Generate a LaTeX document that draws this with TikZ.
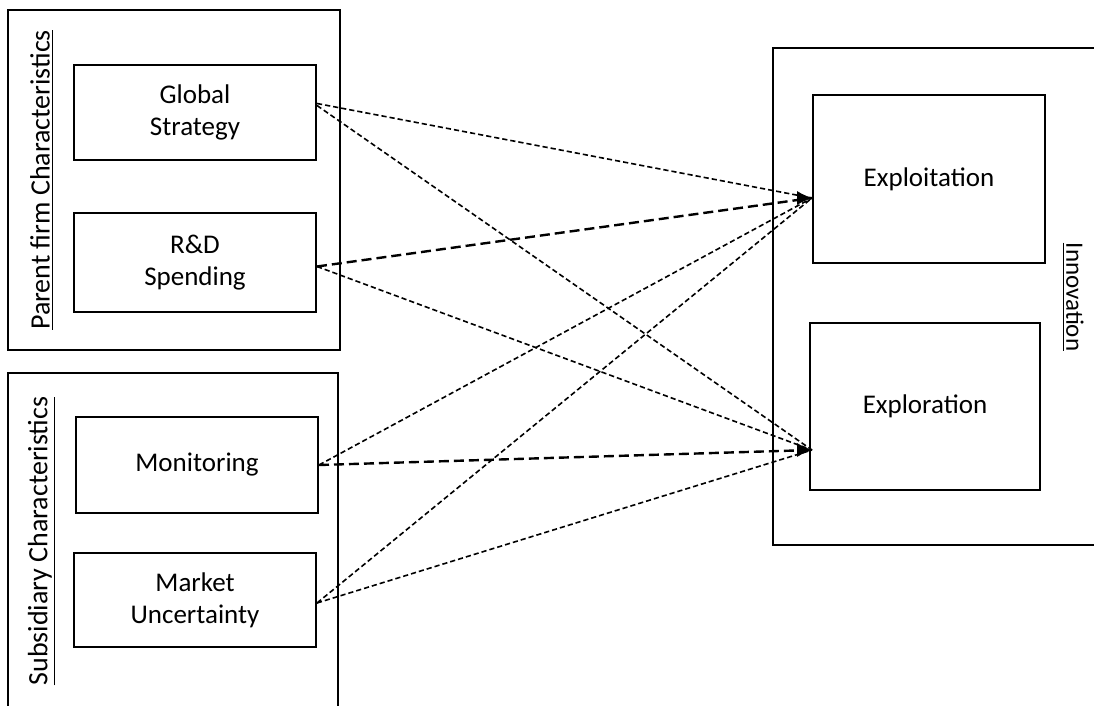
\documentclass[tikz,border=0pt]{standalone}
\usepackage{fontspec}
\setmainfont{Carlito}
\usetikzlibrary{arrows.meta}
\begin{document}
\begin{tikzpicture}[x = 0.5pt, y = -0.5pt, >= Latex,
    txt/.style = {font = \fontsize{13.5}{16}\selectfont},
    box/.style = {draw, line width = 1pt, minimum width = 121pt, align = center, txt},
    link/.style = {line width = 0.8pt, dash pattern = on 2.6pt off 1.5pt},
    boldlink/.style = {line width = 1.2pt, dash pattern = on 5pt off 2.5pt}]
  \useasboundingbox (0, 0) rectangle (1094, 706);
  % group frames
  \draw[line width = 1pt] (8, 10) rectangle (340, 350);
  \draw[line width = 1pt] (8, 730) -- (8, 373) -- (338, 373) -- (338, 730);
  \draw[line width = 1pt] (1110, 48) -- (773, 48) -- (773, 545) -- (1110, 545);
  \node[txt, font = \fontsize{14}{16}\selectfont, rotate = 90] (parent) at (42, 180) {\underline{Parent firm Characteristics}};
  \node[txt, font = \fontsize{14}{16}\selectfont, rotate = 90] (subsid) at (42, 541) {\underline{Subsidiary Characteristics}};
  \node[txt, font = \fontsize{12.5}{16}\selectfont, rotate = -90] (innov) at (1073, 297) {\underline{Innovation}};
  % boxes
  \node[box, minimum height = 47.5pt] (gs) at (195, 112.5) {Global\\Strategy};
  \node[box, minimum height = 49.5pt] (rd) at (195, 262.5) {R\&D\\Spending};
  \node[box, minimum height = 48pt] (mon) at (197, 465) {Monitoring};
  \node[box, minimum height = 47pt] (mu) at (195, 600) {Market\\Uncertainty};
  \node[box, minimum width = 116pt, minimum height = 84pt] (expt) at (929, 179) {Exploitation};
  \node[box, minimum width = 115pt, minimum height = 83.5pt] (expr) at (925, 406.5) {Exploration};
  \coordinate (tipA) at (812, 198);
  \coordinate (tipB) at (812, 450);
  % links
  \draw[link] ([yshift = 4.5pt]gs.east) -- (tipA);
  \draw[link] ([yshift = 3.5pt]gs.east) -- (tipB);
  \draw[boldlink] ([yshift = -2pt]rd.east) -- (tipA);
  \draw[link] ([yshift = -2pt]rd.east) -- (tipB);
  \draw[link] (mon.east) -- (tipA);
  \draw[boldlink] (mon.east) -- (tipB);
  \draw[link] ([yshift = -1.5pt]mu.east) -- (tipA);
  \draw[link] ([yshift = -1.5pt]mu.east) -- (tipB);
  \draw[-{Latex[length = 7.5pt, width = 7pt]}] ([xshift = -7pt]tipA) -- (tipA);
  \draw[-{Latex[length = 7.5pt, width = 7pt]}] ([xshift = -7pt]tipB) -- (tipB);
\end{tikzpicture}
\end{document}
